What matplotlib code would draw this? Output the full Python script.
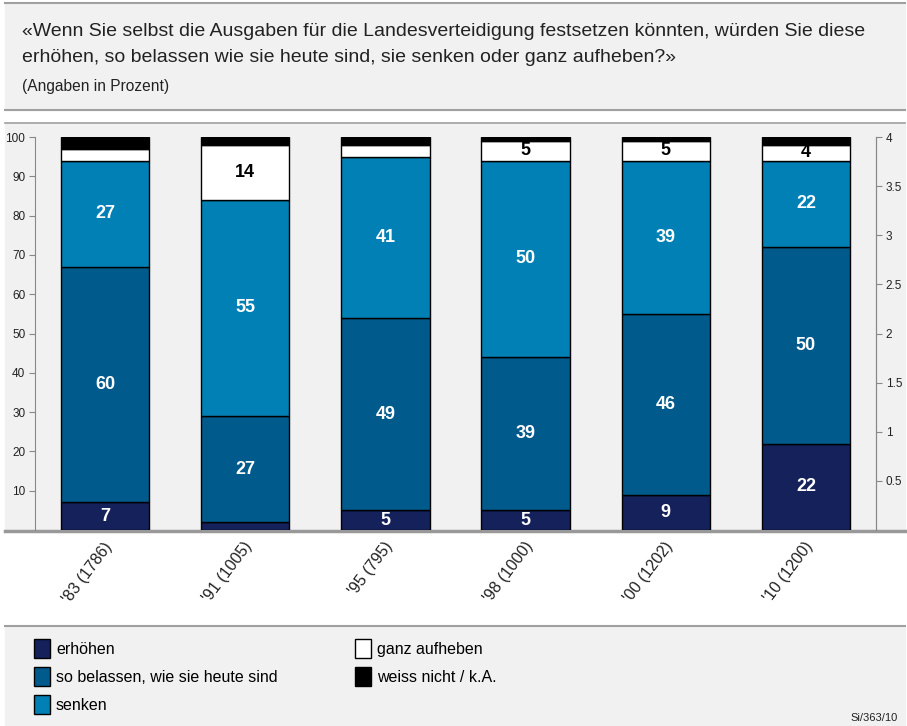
import numpy as np
import matplotlib
matplotlib.use('Agg')
import matplotlib.pyplot as plt
from matplotlib.patches import Patch, Rectangle
from matplotlib.lines import Line2D

plt.rcParams['font.family'] = ['Liberation Sans', 'DejaVu Sans']

# Data
years = ["'83 (1786)", "'91 (1005)", "'95 (795)", "'98 (1000)", "'00 (1202)", "'10 (1200)"]
erhoehen = [7, 2, 5, 5, 9, 22]
belassen = [60, 27, 49, 39, 46, 50]
senken = [27, 55, 41, 50, 39, 22]
aufheben = [3, 14, 3, 5, 5, 4]
weiss_nicht = [3, 2, 2, 1, 1, 2]

series = [erhoehen, belassen, senken, aufheben, weiss_nicht]
names = ['erhöhen', 'so belassen, wie sie heute sind', 'senken', 'ganz aufheben', 'weiss nicht / k.A.']
colors = ['#15215a', '#005a8c', '#0080b4', '#ffffff', '#000000']
text_colors = ['white', 'white', 'white', 'black', 'white']

W, H = 907, 726
fig = plt.figure(figsize=(W / 100, H / 100), dpi=100)
fig.patch.set_facecolor('white')

def fy(px):
    return 1 - px / H

# background panels
bg = '#f1f1f1'
for y0, y1 in [(3, 110), (123, 531), (626, 726)]:
    fig.patches.append(Rectangle((5 / W, fy(y1)), 900 / W, (y1 - y0) / H, transform=fig.transFigure,
                                 color=bg, zorder=-10))
for ypx, lw, c in [(3, 1.5, '#a0a0a0'), (110, 1.5, '#a0a0a0'), (123, 1.2, '#a0a0a0'),
                   (531, 2.5, '#999999'), (626, 1.5, '#a0a0a0')]:
    fig.add_artist(Line2D([5 / W, 905 / W], [fy(ypx), fy(ypx)], transform=fig.transFigure,
                          color=c, lw=lw, zorder=-5))

# header text
fig.text(22 / W, fy(32), '«Wenn Sie selbst die Ausgaben für die Landesverteidigung festsetzen könnten, würden Sie diese',
         fontsize=14, va='center', ha='left', color='#222222')
fig.text(22 / W, fy(57), 'erhöhen, so belassen wie sie heute sind, sie senken oder ganz aufheben?»',
         fontsize=14, va='center', ha='left', color='#222222')
fig.text(22 / W, fy(87), '(Angaben in Prozent)', fontsize=11.2, va='center', ha='left', color='#222222')

ax = fig.add_axes([35 / W, fy(530), 841 / W, 393 / H])
ax.patch.set_visible(False)

x = np.arange(len(years))
bottom = np.zeros(len(years))
for vals, col, tc in zip(series, colors, text_colors):
    vals = np.array(vals)
    ax.bar(x, vals, width=0.63, bottom=bottom, color=col, edgecolor='black', linewidth=1, zorder=3)
    for xi, b, v in zip(x, bottom, vals):
        if v >= 4:
            ax.text(xi, b + v / 2, str(v), ha='center', va='center', color=tc,
                    fontsize=13, fontweight='bold', zorder=4)
    bottom += vals

ax.set_xlim(-0.5, 5.5)
ax.set_ylim(0, 100)
ax.set_yticks(range(10, 101, 10))
ax.set_xticks([])
for s in ['top', 'bottom']:
    ax.spines[s].set_visible(False)
ax.spines['left'].set_color('#888888')
ax.spines['right'].set_color('#888888')
ax.tick_params(axis='y', labelsize=8.5, colors='#888888', labelcolor='#222222', length=4, pad=3)

ax2 = ax.twinx()
ax2.set_ylim(0, 4)
ax2.set_yticks([0.5, 1, 1.5, 2, 2.5, 3, 3.5, 4])
ax2.set_yticklabels(['0.5', '1', '1.5', '2', '2.5', '3', '3.5', '4'])
for s in ['top', 'bottom', 'left']:
    ax2.spines[s].set_visible(False)
ax2.spines['right'].set_color('#888888')
ax2.tick_params(axis='y', labelsize=8.5, colors='#888888', labelcolor='#222222', length=4, pad=3)

# category labels
for xi, lab in zip(x, years):
    ax.text(xi + 0.03, -0.035, lab, transform=ax.get_xaxis_transform(), rotation=53,
            rotation_mode='anchor', ha='right', va='center', fontsize=11.5, color='#222222')

# legend
handles = [Patch(facecolor=c, edgecolor='black', linewidth=1) for c in colors]
fig.legend(handles, names, loc='upper left', bbox_to_anchor=(28 / W, fy(633)), ncol=2,
           frameon=False, fontsize=11.5, handlelength=1.0, handleheight=1.4, handletextpad=0.35,
           labelspacing=0.6, columnspacing=4.85, borderaxespad=0)

fig.text(898 / W, fy(718), 'Si/363/10', fontsize=8, ha='right', va='center', color='#222222')

fig.savefig('out.png', dpi=100, facecolor=fig.get_facecolor())
